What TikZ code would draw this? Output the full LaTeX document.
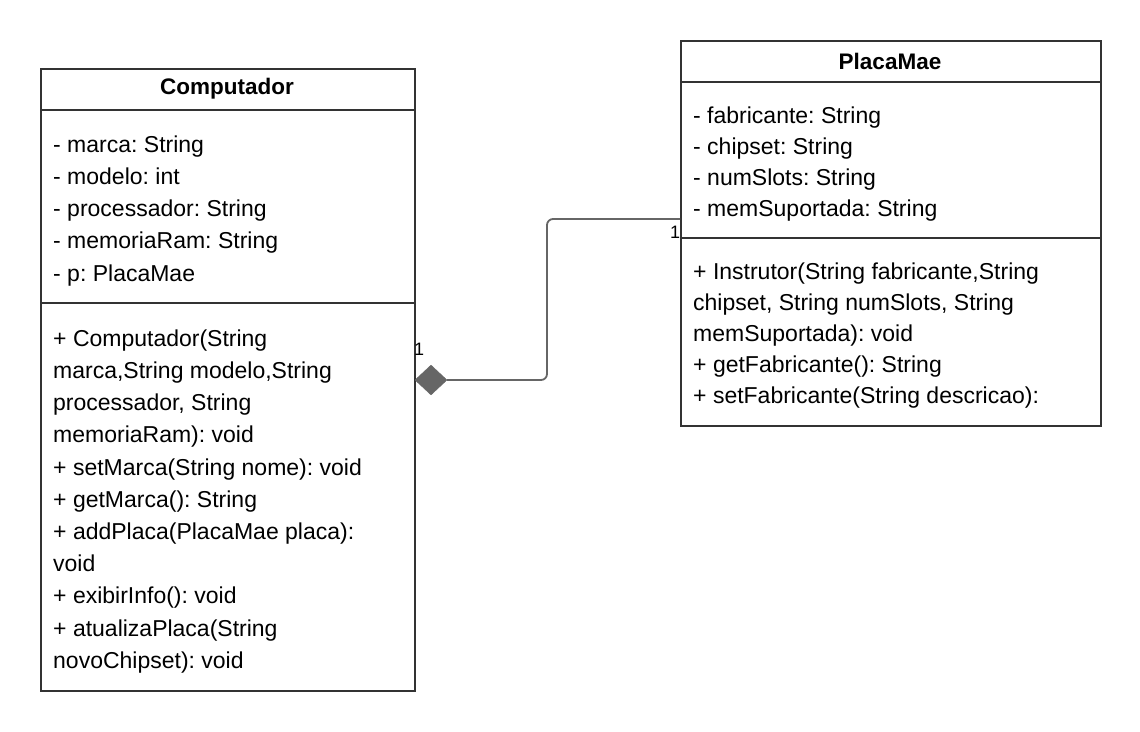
\documentclass[tikz,border=0pt]{standalone}
\usepackage{fontspec}
\setmainfont{Liberation Sans}
\usetikzlibrary{shapes.geometric,positioning,calc}
\frenchspacing

\definecolor{edge}{HTML}{333333}
\definecolor{link}{HTML}{666666}

\tikzset{
  classbox/.style={draw=edge, line width=1.6pt, inner sep=0pt, anchor=north west},
  title/.style={font=\fontsize{22.5}{26}\selectfont\bfseries, inner sep=0pt},
  members/.style={font=\fontsize{23}{32.2}\selectfont, align=left, inner sep=0pt, anchor=north west},
  mult/.style={font=\fontsize{18}{20}\selectfont, inner sep=0pt, text=black}
}

\begin{document}
\begin{tikzpicture}[x=1pt, y=-1pt]
  \useasboundingbox (0,0) rectangle (1140,731);

  % class Computador
  \node[classbox, minimum width=374pt, minimum height=622pt] (comp) at (40,68) {};
  \draw[edge, line width=1.6pt] (40,110) -- (414,110);
  \draw[edge, line width=1.6pt] (40,303) -- (414,303);
  \node[title] (comptitle) at (227,89) {Computador};
  \node[members] (compattr) at (53,135.5) {- marca: String\\- modelo: int\\- processador: String\\- memoriaRam: String\\- p: PlacaMae};
  \node[members] (compops) at (53,329.5) {+ Computador(String\\marca,String modelo,String\\processador, String\\memoriaRam): void\\+ setMarca(String nome): void\\+ getMarca(): String\\+ addPlaca(PlacaMae placa):\\void\\+ exibirInfo(): void\\+ atualizaPlaca(String\\novoChipset): void};

  % class PlacaMae
  \node[classbox, minimum width=420pt, minimum height=385pt] (placa) at (680,40) {};
  \draw[edge, line width=1.6pt] (680,82) -- (1100,82);
  \draw[edge, line width=1.6pt] (680,238) -- (1100,238);
  \node[title] (placatitle) at (890,61) {PlacaMae};
  \node[members, font=\fontsize{23}{31}\selectfont] (placaattr) at (693,106.5) {- fabricante: String\\- chipset: String\\- numSlots: String\\- memSuportada: String};
  \node[members, font=\fontsize{23}{31}\selectfont] (placaops) at (693,262.5) {+ Instrutor(String fabricante,String\\chipset, String numSlots, String\\memSuportada): void\\+ getFabricante(): String\\+ setFabricante(String descricao):};

  % composition
  \node[diamond, fill=link, draw=link, inner sep=0pt, minimum width=32pt, minimum height=30pt] (dia) at (431,380) {};
  \coordinate (bend) at (547,300);
  \coordinate (pin) at (680,219);
  \draw[link, line width=1.8pt, rounded corners=6pt] (dia.east) -- (dia.east -| bend) -- (bend |- pin) -- (pin);
  \node[mult] (m1) at (419,349) {1};
  \node[mult] (m2) at (675,232) {1};
\end{tikzpicture}
\end{document}
